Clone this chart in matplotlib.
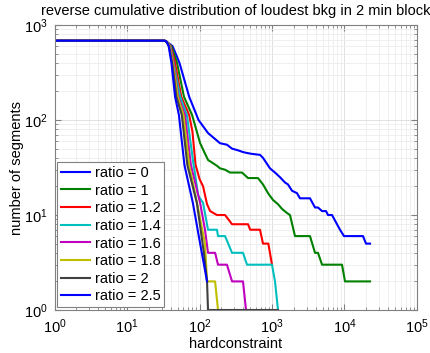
import matplotlib
matplotlib.use("Agg")
import matplotlib.pyplot as plt
import numpy as np

plt.rcParams['font.family'] = ['Liberation Sans', 'DejaVu Sans']

labels = ["ratio = 0", "ratio = 1", "ratio = 1.2", "ratio = 1.4",
          "ratio = 1.6", "ratio = 1.8", "ratio = 2", "ratio = 2.5"]
colors = ["#0000ff", "#008000", "#ff0000", "#00bfbf",
          "#bf00bf", "#bfbf00", "#404040", "#0000ff"]

# values (hardconstraint, number of segments)
x_r0 = [1, 33, 35, 42.5, 53, 72, 97, 131, 192, 239, 281, 340, 398, 452, 530, 683, 751,
        938, 1100, 1290, 1510, 1660, 1890, 2210, 2430, 3340, 3920, 4310, 4900, 5560,
        5920, 6730, 7880, 8670, 9840, 18000, 19800, 22500]
y_r0 = [685, 685, 670, 600, 398, 176, 100, 73, 57, 55, 50, 48, 46, 45, 44, 43, 40,
        31, 28, 25, 22, 21, 18, 17, 15, 15, 12, 12, 11, 11,
        10, 10, 8, 7, 6, 6, 5, 5]

x_r1 = [1, 33, 35, 41, 49, 61, 79, 102, 131, 174, 192, 225, 264, 386, 467, 641, 751,
        881, 1032, 1210, 1374, 1610, 1770, 2076, 3340, 3920, 4310, 4900, 9240, 10160, 22500]
y_r1 = [685, 685, 670, 600, 398, 176, 113, 57, 38, 33, 31, 30, 28, 28, 24.5, 24.5, 21,
        17, 14.4, 13, 11.6, 10.5, 10, 6, 6, 4, 4, 3, 3, 2, 2]

x_r12 = [1, 33, 35, 40, 46, 56, 72, 80, 88, 100, 112, 127, 140, 174, 225, 281, 467,
         500, 683, 751, 890, 1000]
y_r12 = [685, 685, 670, 600, 398, 176, 113, 75, 34, 24, 20, 13, 11, 10, 10, 8, 8,
         7, 7, 5, 5, 3]

x_r14 = [1, 33, 35, 39.5, 44, 54, 67, 81, 96, 112, 131, 174, 180, 225, 281, 398, 452,
         1000, 1100, 1210]
y_r14 = [685, 685, 670, 600, 398, 176, 113, 38, 16, 13.4, 7, 7, 6, 6, 4, 4, 3,
         3, 2, 1]

x_r16 = [1, 33, 35, 39, 43.5, 51, 63, 76, 102, 119, 131, 164, 180, 239, 281, 398, 438]
y_r16 = [685, 685, 670, 600, 398, 176, 113, 33.5, 13.4, 7, 4, 4, 3, 3, 2, 2, 1]

x_r18 = [1, 33, 35, 38.5, 43, 50, 60, 72, 95, 119, 127, 164, 180]
y_r18 = [685, 685, 670, 600, 398, 176, 113, 33.5, 12, 5, 2, 2, 1]

x_r2 = [1, 33, 35, 38, 42, 48, 57, 68, 92, 115, 127, 131, 1210]
y_r2 = [685, 685, 670, 600, 398, 176, 113, 33.5, 13.4, 4, 2, 1, 1]

x_r25 = [1, 33, 35, 37.5, 41, 46, 52, 62, 81, 102, 127]
y_r25 = [685, 685, 670, 600, 398, 176, 113, 33.5, 13.4, 5, 2]

xs = [x_r0, x_r1, x_r12, x_r14, x_r16, x_r18, x_r2, x_r25]
ys = [y_r0, y_r1, y_r12, y_r14, y_r16, y_r18, y_r2, y_r25]

fig = plt.figure(figsize=(4.31, 3.53), dpi=100)
ax = fig.add_axes([0.1265, 0.1218, 0.8410, 0.8072])

for xv, yv, c, lab in zip(xs, ys, colors, labels):
    ax.plot(xv, yv, color=c, lw=1.5, label=lab)

ax.set_xscale('log')
ax.set_yscale('log')
ax.set_xlim(1, 1e5)
ax.set_ylim(1, 1e3)

ax.grid(True, which='major', color='#dcdcdc', lw=0.6)
ax.grid(True, which='minor', color='#ececec', lw=0.6)
ax.set_axisbelow(True)
ax.tick_params(which='both', direction='in', top=True, right=True,
               color='#808080', labelsize=10.5)
ax.tick_params(which='major', length=4, pad=5)
ax.tick_params(which='minor', length=2)
for s in ax.spines.values():
    s.set_color('#808080')

ax.set_title("reverse cumulative distribution of loudest bkg in 2 min block",
             fontsize=10.5, pad=7)
ax.set_xlabel("hardconstraint", fontsize=10.5, labelpad=1)
ax.set_ylabel("number of segments", fontsize=10.5, labelpad=0)

leg = ax.legend(loc='lower left', fontsize=10.5, handlelength=2.0,
                handletextpad=0.3, labelspacing=0.25, borderpad=0.25,
                borderaxespad=0.2, fancybox=False, framealpha=1)
leg.get_frame().set_edgecolor('#808080')
leg.get_frame().set_linewidth(0.8)

fig.savefig('out.png', dpi=100)
